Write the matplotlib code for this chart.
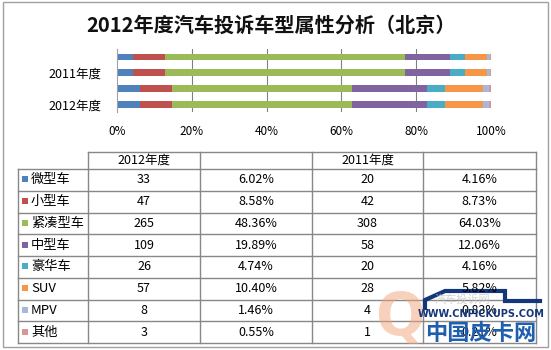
import matplotlib
matplotlib.use("Agg")
import matplotlib.pyplot as plt
from matplotlib.patches import Rectangle

plt.rcParams['font.family'] = ['Noto Sans CJK SC', 'DejaVu Sans']

# data
title = "2012年度汽车投诉车型属性分析（北京）"
types = ["微型车", "小型车", "紧凑型车", "中型车", "豪华车", "SUV", "MPV", "其他"]
cnt_2012 = [33, 47, 265, 109, 26, 57, 8, 3]
pct_2012 = [6.02, 8.58, 48.36, 19.89, 4.74, 10.40, 1.46, 0.55]
cnt_2011 = [20, 42, 308, 58, 20, 28, 4, 1]
pct_2011 = [4.16, 8.73, 64.03, 12.06, 4.16, 5.82, 0.83, 0.21]
bar_rows = ["2012年度", "2012年度", "2011年度", "2011年度"]
row_labels = ["2012年度", "", "2011年度", ""]
xticks = [0, 20, 40, 60, 80, 100]
colors = ["#4F81BD", "#C0504D", "#9BBB59", "#8064A2", "#4BACC6", "#F79646",
          "#A5B9DA", "#D99694"]

W, H = 551, 350
fig = plt.figure(figsize=(W / 100, H / 100), dpi=100)

# background axes in pixel units
bg = fig.add_axes([0, 0, 1, 1])
bg.set_xlim(0, W)
bg.set_ylim(H, 0)
bg.axis('off')
bg.add_patch(Rectangle((3, 2), 545, 345, fill=False, ec="#A0A0A0", lw=1))
bg.text(271, 25, title, ha='center', va='center', fontsize=14.5,
        fontweight='bold', color='#111111')

# bar chart
ax = fig.add_axes([117 / W, 1 - 112.4 / H, (491 - 117) / W, 63.3 / H])
vals = {"2012年度": pct_2012, "2011年度": pct_2011}
ypos = list(range(len(bar_rows)))
for i, name in enumerate(bar_rows):
    left = 0
    for j, v in enumerate(vals[name]):
        ax.barh(i, v, left=left, height=0.44, color=colors[j], lw=0)
        left += v
ax.set_xlim(0, 100)
ax.set_ylim(-0.5, 3.5)
ax.set_xticks(xticks)
ax.set_xticklabels([f"{t}%" for t in xticks], fontsize=8.5)
ax.set_yticks(ypos)
ax.set_yticklabels(row_labels, fontsize=9)
ax.tick_params(length=0, pad=9)
ax.tick_params(axis='y', pad=11)
for t in xticks[1:-1]:
    ax.axvline(t, color="#808080", lw=0.8, zorder=0)
for s in ["top", "right", "bottom"]:
    ax.spines[s].set_visible(False)
ax.spines["left"].set_color("#A0A0A0")
ax.axvline(100, color="#B0B0B0", lw=0.8, zorder=0)
ax.set_facecolor("none")

# table
lc = "#888888"
cols = [18, 88, 200, 312, 423, 536]
top, head_bot = 152, 169
rh = (343 - head_bot) / len(types)
rows_y = [head_bot + k * rh for k in range(len(types) + 1)]
# header
bg.plot([cols[1], cols[-1]], [top, top], color=lc, lw=1)
for x in cols[1:]:
    bg.plot([x, x], [top, head_bot], color=lc, lw=1)
bg.text((cols[1] + cols[2]) / 2, (top + head_bot) / 2, "2012年度",
        ha='center', va='center', fontsize=9)
bg.text((cols[3] + cols[4]) / 2, (top + head_bot) / 2, "2011年度",
        ha='center', va='center', fontsize=9)
for y in rows_y:
    bg.plot([cols[0], cols[-1]], [y, y], color=lc, lw=1)
for x in cols:
    bg.plot([x, x], [head_bot, rows_y[-1]], color=lc, lw=1)
for k, name in enumerate(types):
    yc = rows_y[k] + rh / 2
    bg.add_patch(Rectangle((22, yc - 3.5), 6, 6, color=colors[k], lw=0))
    bg.text(31, yc, name, ha='left', va='center', fontsize=9.5)
    bg.text((cols[1] + cols[2]) / 2, yc, str(cnt_2012[k]), ha='center',
            va='center', fontsize=9)
    bg.text((cols[2] + cols[3]) / 2, yc, f"{pct_2012[k]:.2f}%", ha='center',
            va='center', fontsize=9)
    bg.text((cols[3] + cols[4]) / 2, yc, str(cnt_2011[k]), ha='center',
            va='center', fontsize=9)
    bg.text((cols[4] + cols[5]) / 2, yc, f"{pct_2011[k]:.2f}%", ha='center',
            va='center', fontsize=9)

# watermark
bg.text(400, 318, "Q", ha='center', va='center', fontsize=42,
        fontweight='bold', color='#F2A57A', alpha=0.5, family='DejaVu Sans')
bg.text(462, 300, "汽车投诉网", ha='center', va='center', fontsize=8,
        color='#C8C8C8', alpha=0.8)
bg.plot([425, 425, 445, 505, 505, 540], [308, 300, 291, 291, 301, 301],
        color='#14367A', lw=3, solid_joinstyle='miter')
bg.text(481, 314, "WWW.CNPICKUPS.COM", ha='center', va='center', fontsize=7,
        fontweight='bold', color='#14367A', family='DejaVu Sans')
bg.text(481, 333, "中国皮卡网", ha='center', va='center', fontsize=16,
        fontweight='bold', color='#1F5FB0')

fig.savefig("out.png", dpi=100)
